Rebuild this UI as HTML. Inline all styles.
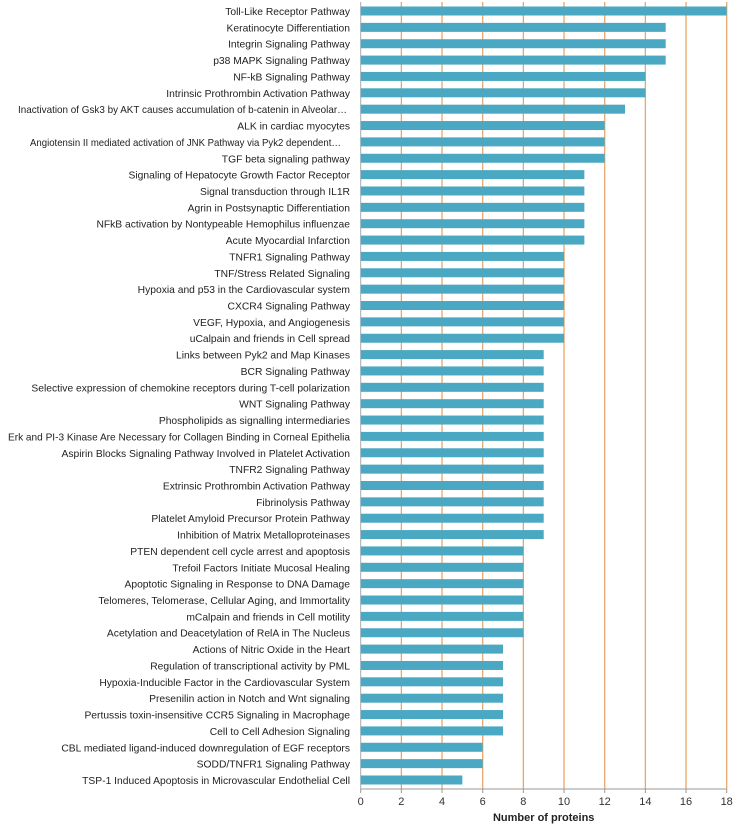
<!DOCTYPE html>
<html><head><meta charset="utf-8"><style>
body{margin:0;background:#fff;}
svg{display:block;font-family:"Liberation Sans",sans-serif;}
</style></head><body>
<svg id="chart" width="736" height="826"></svg>
<script>
const categories=["Toll-Like Receptor Pathway","Keratinocyte Differentiation","Integrin Signaling Pathway","p38 MAPK Signaling Pathway ","NF-kB Signaling Pathway","Intrinsic Prothrombin Activation Pathway","Inactivation of Gsk3 by AKT causes accumulation of b-catenin in Alveolar…","ALK in cardiac myocytes","Angiotensin II mediated activation of JNK Pathway via Pyk2 dependent…","TGF beta signaling pathway","Signaling of Hepatocyte Growth Factor Receptor","Signal transduction through IL1R","Agrin in Postsynaptic Differentiation","NFkB activation by Nontypeable Hemophilus influenzae","Acute Myocardial Infarction","TNFR1 Signaling Pathway","TNF/Stress Related Signaling","Hypoxia and p53 in the Cardiovascular system","CXCR4 Signaling Pathway","VEGF, Hypoxia, and Angiogenesis","uCalpain and friends in Cell spread","Links between Pyk2 and Map Kinases","BCR Signaling Pathway","Selective expression of chemokine receptors during T-cell polarization","WNT Signaling Pathway","Phospholipids as signalling intermediaries","Erk and PI-3 Kinase Are Necessary for Collagen Binding in Corneal Epithelia","Aspirin Blocks Signaling Pathway Involved in Platelet Activation","TNFR2 Signaling Pathway","Extrinsic Prothrombin Activation Pathway","Fibrinolysis Pathway","Platelet Amyloid Precursor Protein Pathway","Inhibition of Matrix Metalloproteinases","PTEN dependent cell cycle arrest and apoptosis","Trefoil Factors Initiate  Mucosal Healing","Apoptotic Signaling in Response to DNA Damage","Telomeres, Telomerase, Cellular Aging, and  Immortality","mCalpain and friends in Cell motility","Acetylation and Deacetylation of RelA in The Nucleus","Actions of Nitric Oxide in the Heart","Regulation of transcriptional activity by PML","Hypoxia-Inducible Factor in the Cardiovascular System","Presenilin action in Notch and Wnt signaling","Pertussis toxin-insensitive CCR5 Signaling in Macrophage","Cell to Cell Adhesion Signaling","CBL mediated ligand-induced downregulation of EGF receptors","SODD/TNFR1 Signaling Pathway","TSP-1 Induced Apoptosis in Microvascular Endothelial Cell"];
const values=[18,15,15,15,14,14,13,12,12,12,11,11,11,11,11,10,10,10,10,10,10,9,9,9,9,9,9,9,9,9,9,9,9,8,8,8,8,8,8,7,7,7,7,7,7,6,6,5];
const ticks=[0,2,4,6,8,10,12,14,16,18];
const NS="http://www.w3.org/2000/svg";
const svg=document.getElementById('chart');
const x0=360.7,x1=726.7,xmax=18,yTop=2,yAxis=789,firstY=11,lastY=780;
const x=v=>x0+(x1-x0)*v/xmax;
const step=(lastY-firstY)/(categories.length-1);
const y=i=>firstY+i*step;
function mk(t,a){const e=document.createElementNS(NS,t);for(const k in a)e.setAttribute(k,a[k]);svg.appendChild(e);return e;}
ticks.forEach(t=>{
  if(t>0){const g=mk('line',{x1:x(t),x2:x(t),y1:yTop,y2:yAxis,stroke:'#eaa56c','stroke-width':1.3});
  
  }
  const tk=mk('line',{x1:x(t),x2:x(t),y1:yAxis,y2:yAxis+4,stroke:'#999'});
  
  
  const tl=mk('text',{x:x(t),y:yAxis+16,'text-anchor':'middle','font-size':11,fill:'#333'});
  tl.textContent=t;
  
  
});
const yl=mk('line',{x1:x0,x2:x0,y1:yTop,y2:yAxis,stroke:'#aaa'});


const xl=mk('line',{x1:x0,x2:x1,y1:yAxis,y2:yAxis,stroke:'#999'});


categories.forEach((c,i)=>{
  const b=mk('rect',{x:x0,y:y(i)-4.5,width:x(values[i])-x0,height:9,fill:'#4aa8c2'});
  
  
  const ell=c.endsWith('…');
  const right=ell?(c.startsWith('Angio')?341:347):350;
  const l=mk('text',{x:right,y:y(i)+4,'text-anchor':'end','font-size':10.3,fill:'#222','xml:space':'preserve'});
  l.textContent=c;
  
  
  const maxW=ell?(c.startsWith('Angio')?311:329):342;
  if(l.getComputedTextLength()>maxW){l.setAttribute('textLength',maxW);l.setAttribute('lengthAdjust','spacingAndGlyphs');}
});
const title=mk('text',{x:(x0+x1)/2,y:821,'text-anchor':'middle','font-size':11,'font-weight':'bold',fill:'#222'});
title.textContent='Number of proteins';


</script>
</body></html>
